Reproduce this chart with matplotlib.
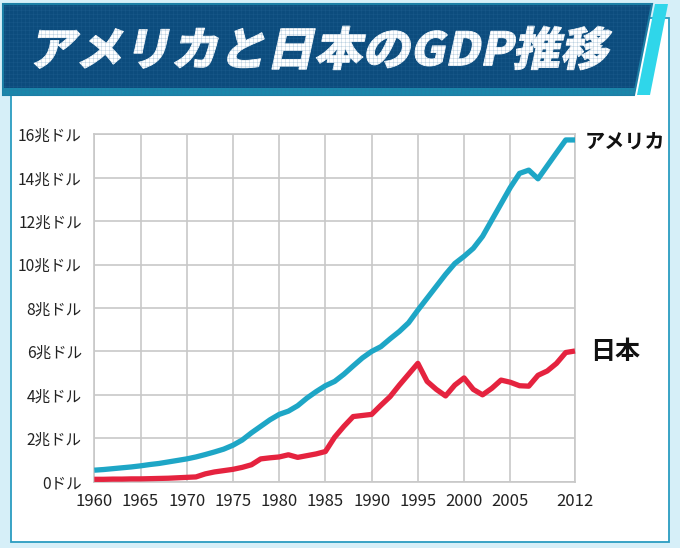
import numpy as np
import matplotlib
matplotlib.use('Agg')
from matplotlib import pyplot as plt
from matplotlib.patches import Polygon, Rectangle, PathPatch
from matplotlib.textpath import TextPath
from matplotlib.font_manager import FontProperties
from matplotlib.transforms import Affine2D

plt.rcParams['font.family'] = ['Noto Sans CJK JP', 'DejaVu Sans']

title = 'アメリカと日本のGDP推移'
years = list(range(1960, 2013))
# trillion US dollars
usa = [0.53, 0.56, 0.60, 0.64, 0.68, 0.73, 0.79, 0.84, 0.91, 0.98,
       1.05, 1.14, 1.25, 1.37, 1.50, 1.68, 1.92, 2.25, 2.55, 2.85,
       3.10, 3.25, 3.50, 3.85, 4.15, 4.42, 4.62, 4.95, 5.33, 5.70,
       6.00, 6.22, 6.58, 6.92, 7.32, 7.90, 8.45, 9.00, 9.55, 10.05,
       10.38, 10.75, 11.30, 12.05, 12.80, 13.55, 14.20, 14.35, 13.95, 14.55,
       15.15, 15.74, 15.74]
japan = [0.11, 0.11, 0.12, 0.12, 0.13, 0.13, 0.14, 0.15, 0.16, 0.18,
         0.20, 0.22, 0.36, 0.45, 0.51, 0.57, 0.66, 0.78, 1.05, 1.10,
         1.14, 1.24, 1.12, 1.20, 1.28, 1.39, 2.05, 2.55, 3.00, 3.05,
         3.10, 3.52, 3.92, 4.45, 4.95, 5.45, 4.62, 4.25, 3.95, 4.45,
         4.78, 4.25, 4.00, 4.30, 4.68, 4.58, 4.42, 4.40, 4.90, 5.10,
         5.45, 5.95, 6.02]
series_names = ['アメリカ', '日本']
yticks = [0, 2, 4, 6, 8, 10, 12, 14, 16]
ytick_labels = ['0ドル'] + [f'{v}兆ドル' for v in yticks[1:]]
xticks = [1960, 1965, 1970, 1975, 1980, 1985, 1990, 1995, 2000, 2005, 2012]

W, H = 680, 548
fig = plt.figure(figsize=(6.8, 5.48), dpi=100)
fig.patch.set_facecolor('#d6eff8')

# background / frame in pixel coords (y down)
bg = fig.add_axes([0, 0, 1, 1])
bg.set_xlim(0, W)
bg.set_ylim(H, 0)
bg.axis('off')

bg.add_patch(Rectangle((11, 18), 658, 524, facecolor='white', edgecolor='#2a9cc0', lw=1.3))

banner = Polygon([(3, 4), (652, 4), (634, 95), (3, 95)], closed=True,
                 facecolor='#0c4c7d', edgecolor='#1b7fa6', lw=1.5)
bg.add_patch(banner)
# faint grid texture on the banner
vl = bg.vlines(np.arange(5, 655, 4), 4, 95, color='#3474a4', lw=0.4, alpha=0.3)
hl = bg.hlines(np.arange(6, 95, 4), 3, 655, color='#3474a4', lw=0.4, alpha=0.3)
vl.set_clip_path(banner)
hl.set_clip_path(banner)
bg.add_patch(Polygon([(3, 88), (635.5, 88), (634, 95), (3, 95)], closed=True,
                     facecolor='#1a86aa', edgecolor='none'))
bg.add_patch(Polygon([(655, 4), (668, 4), (650, 95), (637, 95)], closed=True,
                     facecolor='#2fd6ea', edgecolor='none'))

# slanted title
fp = FontProperties(family='Noto Sans CJK JP', weight='black')
tp = TextPath((0, 0), title, size=48, prop=fp)
tp = tp.transformed(Affine2D().skew_deg(12, 0))
ext = tp.get_extents()
x0, x1, y0, y1 = 34, 612, 26, 70
sx = (x1 - x0) / ext.width
sy = (y1 - y0) / ext.height
tp = tp.transformed(Affine2D().translate(-ext.x0, -ext.y0).scale(sx, -sy).translate(x0, y1))
bg.add_patch(PathPatch(tp, facecolor='white', edgecolor='white', lw=0.6))

# chart
left, right, bottom, top = 94.3, 575, 481.7, 134.3
ax = fig.add_axes([left / W, (H - bottom) / H, (right - left) / W, (bottom - top) / H])
ax.set_facecolor('none')
ax.plot(years, usa, color='#1ea6c6', lw=3.8, solid_capstyle='butt', clip_on=False, zorder=3)
ax.plot(years, japan, color='#e5233f', lw=3.8, solid_capstyle='butt', clip_on=False, zorder=3)
ax.set_xlim(1960, 2012)
ax.set_ylim(0, 16)
ax.set_xticks(xticks)
ax.set_yticks(yticks)
ax.set_yticklabels(ytick_labels)
ax.tick_params(length=0, colors='#222222')
ax.tick_params(axis='y', pad=9, labelsize=11.2)
ax.tick_params(axis='x', pad=8, labelsize=12)
ax.grid(True, color='#c8c8c8', lw=1.2)
for s in ax.spines.values():
    s.set_color('#c8c8c8')
    s.set_linewidth(1.2)

bg.text(585, 141, series_names[0], fontsize=14.5, weight='bold', ha='left', va='center', color='#111111')
bg.text(590, 352, series_names[1], fontsize=18, weight='bold', ha='left', va='center', color='#111111')

fig.savefig('out.png', dpi=100, facecolor=fig.get_facecolor())
